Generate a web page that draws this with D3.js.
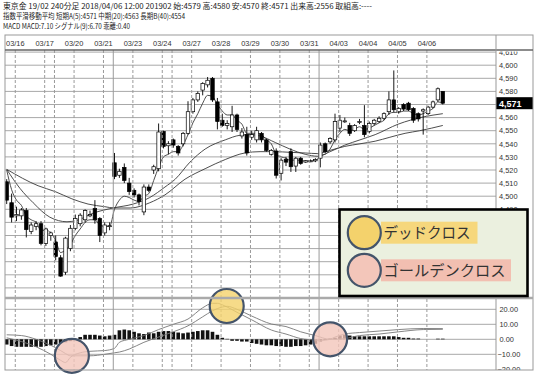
<!DOCTYPE html>
<html><head><meta charset="utf-8">
<script src="https://cdn.jsdelivr.net/npm/d3@7"></script>
<style>body{margin:0;background:#fff}svg{display:block}</style>
</head><body>
<svg id="c" width="543" height="383"></svg>
<script>
// ---------- DATA ----------
const headerLines = [
  "東京金 19/02 240分足 2018/04/06 12:00 201902 始:4579 高:4580 安:4570 終:4571 出来高:2556 取組高:----",
  "指数平滑移動平均 短期A(5):4571 中期(20):4563 長期B(40):4554",
  "MACD MACD:7.10 シグナル(9):6.70 乖離:0.40"
];
const dateLabels = ["03/16","03/17","03/20","03/21","03/23","03/24","03/27","03/28","03/29","03/30","03/31","04/03","04/04","04/05","04/06"];
const dateLineIdx = [1.75,7.75,13.75,19.75,25.75,31.75,37.75,43.75,49.75,55.75,61.75,67.75,73.75,79.75,85.75];
const extraDashIdx = [9.75,33.75];
const solidLineIdx = [21.75,63.75];
const priceTicks = [4610,4600,4590,4580,4570,4560,4550,4540,4530,4520,4510,4500,4490,4480,4470,4460,4450,4440,4430];
const priceLabelTicks = [4610,4600,4590,4580,4560,4550,4540,4530,4520,4510,4500,4490];
const macdTicks = [20,10,0,-10,-20];
const macdGrid = [20,10,0,-10];
const lastPrice = 4571;

const opens  = [4511,4495,4485,4485,4489,4473,4477,4479,4464,4470,4465,4453,4442,4460,4475.5,4479,4482,4485,4490.5,4483,4472,4477,
  4525.5,4516,4522,4510,4504.5,4501,4488,4507,4520,4521,4549.5,4538.5,4543,4538,4540,4548,4564.5,4573.5,4581,4585,4590,4572,4558,4554,4553,4562,
  4546,4547,4545,4543,4548,4543,4532,4534.5,4517.5,4528,4534,4523,4529,4526,4527,4527,4529,4540,4541.5,4543,4552,4557,4554,4550,4557,4554,
  4549.5,4555.5,4557,4559.5,4564.5,4573.5,4564.5,4570,4571,4567,4563,4565,4563,4568,4573.5,4580];
const highs  = [4513,4502,4492,4491,4491,4480,4481,4481,4476,4473,4470,4455,4469,4478,4486,4487,4490,4489,4497,4484,4480,4480,
  4533,4521,4525,4514,4506,4502,4509,4509,4524,4555.5,4550,4542,4544,4539,4549,4572.5,4575,4580,4587,4591,4591,4575,4563,4558,4569,4563,
  4552,4553,4550,4553,4549,4544,4536,4536.5,4529,4530,4536.5,4530,4530,4527.5,4528,4529,4541,4541,4545,4563,4562,4560,4556,4555,4559,4569.5,
  4557,4559,4561,4564,4580,4596,4568,4571,4572,4568,4564,4567,4569,4573,4583,4580];
const lows   = [4494,4480,4481,4482,4468.5,4471,4474,4462.5,4462,4466,4451,4438.5,4440,4458,4474,4477,4480,4484,4479,4465,4470,4474,
  4513,4514,4510,4501,4499,4493,4485.5,4503,4517,4519,4536.5,4532,4537,4531,4538,4547,4563,4572,4577,4583,4572,4551,4553,4551,4549,4549,
  4544,4531,4543,4541,4541,4534,4531,4513.5,4512,4523,4518.5,4518.5,4524,4525.5,4526,4526,4522,4533,4540,4541,4549,4556,4546,4549,4555,4545,
  4548,4554,4556,4558,4562,4564,4563,4565,4565,4556,4557,4547,4562,4567,4572,4570];
const closes = [4497,4484,4486,4489.5,4474.5,4478,4479,4464,4475,4472,4454,4439,4468,4475.5,4483,4485.5,4489,4486,4482,4470,4478,4477.5,
  4515,4519,4512,4503.5,4501,4496,4507,4504.5,4522.5,4549,4538,4540,4539,4533,4548,4564.5,4573.5,4578.5,4586,4588.5,4573.5,4557,4554,4555.5,4562,4551,
  4549,4533,4547,4550,4543,4535,4535,4516,4527.5,4526,4522.5,4529,4525,4527,4527,4528,4539,4534,4544,4557,4558,4557.5,4548,4554,4557,4547,
  4555.5,4558,4559.5,4563,4573.5,4566,4567,4566.5,4566,4558,4559,4566,4568,4572,4582,4571];

// moving averages
const maShort = [4520,4505,4497,4493,4485,4482,4480,4474,4474,4472,4466,4457,4459,4463,4470,4475,4480,4482,4482,4478,4477,4477,
  4490,4497,4500,4499,4497,4496,4500,4502,4512,4522,4530,4532,4534,4534,4539,4547,4556,4563,4571,4577,4576,4570,4565,4562,4562,4558,
  4555,4548,4548,4548,4547,4543,4540,4532,4530,4529,4527,4528,4527,4527,4527,4527,4531,4532,4536,4543,4548,4551,4550,4551,4553,4551,
  4552,4554,4556,4558,4563,4564,4564,4565,4565,4563,4562,4563,4565,4567,4572,4571];
const maMidIdx  = [0,2.7,5.4,8.8,12.3,14.3,17.6,21.7,25.8,29.2,32.3,34.4,37.4,40.5,44.6,47.6,49.7,51.7,54.8,57.8,60.9,63.5,66,69,72.1,75.2,79.9,85,89];
const maMidVal  = [4520.5,4506,4495,4484,4480.5,4481.5,4487,4491,4494,4499,4507,4513,4526,4536,4543,4546.5,4547,4546,4541,4536,4532,4530.5,4534,4539,4543,4547,4555,4560.5,4563];
const maLongIdx = [0,6.4,9.9,13.3,16.6,20,22,25.2,29.2,32.3,36.4,40.5,44.6,48.6,51.7,54.8,57.8,60.9,63.5,66,69,72.1,75.2,78.2,81.3,84.3,89];
const maLongVal = [4520.5,4508,4503.5,4498,4494,4492,4491,4491,4495,4501,4513,4521,4528,4533,4534,4534,4533.5,4533,4532.5,4535,4538,4540,4542,4545,4548,4550,4554];

// MACD panel
const macdHist = [-3.5,-4.5,-5,-5,-5,-5,-5,-5,-4.5,-4,-3.5,-2.5,-2,-1.2,0.3,1.5,3,3,3,2.5,2,2.5,
  3,6,6.5,6,5,4,3.5,4.5,4,5,5.5,5.5,5,4.5,4,4.5,5,5.5,6,6,5,3,1,0.3,-1,-1,
  -1.5,-1.5,-2.5,-3,-3.5,-4,-4,-4.5,-4.5,-5,-5,-4.5,-4.5,-4,-3.5,-3,-1.5,-0.5,0.5,1,2.5,3,2.5,2,2,2,
  2,2,2,2,2,2,1.5,1,1,0.5,0.5,0,0,0,0.4,0.4];
const macdIdx = [0,3,6,9,11,12,13,15,17,20,22,23,25,28,31,34,37,40,42,43,44,45,47,50,54,57,60,63,64,65,66,67,69,72,76,80,85,89];
const macdVal = [1,-1.5,-5,-10,-14,-15.5,-12,-9,-8,-7.5,-6,-2,0,2.5,6.5,10,13.5,21,24,24,23,21.5,18,13,6.2,3.5,0.5,-0.5,-0.8,-0.5,0,1.5,3.5,4.5,5.5,6.5,7.2,7.1];
const sigIdx  = [0,3,6,9,11,12,13,15,17,20,22,23,25,28,31,34,37,40,42,44,45,47,50,54,57,60,63,66,69,72,76,80,85,89];
const sigVal  = [3,2.5,0,-4,-7.5,-9.5,-11,-11,-11,-10,-9,-8.5,-6.5,-2,1.5,5,9,15,19,21.5,22,20,15.5,10.2,8.5,5,2.5,0,0.5,2.5,3.5,5,6.5,6.7];
const crosses = [
  {i:13.3, m:-11,  type:"golden"},
  {i:44.9, m:22.2, type:"dead"},
  {i:66,   m:0,    type:"golden"}
];
const legendItems = [
  {label:"デッドクロス", type:"dead"},
  {label:"ゴールデンクロス", type:"golden"}
];

// ---------- DRAW ----------
const svg = d3.select("#c");
const L = 5, R = 533, AX = 496, TOP = 35, DATEB = 50, MAINB = 297, MTOP = 299, BOT = 370;
const x = d3.scaleLinear().domain([0, 89]).range([6.7, 442.8]);
const y = d3.scaleLinear().domain([4430, 4610]).range([287.9, 52.1]);
const ym = d3.scaleLinear().domain([-20, 20]).range([369.3, 309.3]);
const fill = {dead:"#F4D26C", golden:"#F3C6BA"};
const labelFill = {dead:"#F6D77C", golden:"#F2BFB1"};
const stroke = "#44546A";

// header
const hdrW = [369, 182, 127];
headerLines.forEach((t, k) => {
  svg.append("text").attr("x", 3).attr("y", 9 + k * 10.2).text(t)
    .attr("font-family", "'Noto Sans CJK JP', sans-serif").attr("font-size", 7.6)
    .attr("fill", "#222").attr("textLength", hdrW[k]).attr("lengthAdjust", "spacingAndGlyphs");
});

// clip paths
const defs = svg.append("defs");
defs.append("clipPath").attr("id","cm").append("rect").attr("x",L).attr("y",DATEB).attr("width",R-L).attr("height",MAINB-DATEB);
defs.append("clipPath").attr("id","ca").append("rect").attr("x",L).attr("y",DATEB+1.5).attr("width",R-L).attr("height",MAINB-DATEB-1.5);
defs.append("clipPath").attr("id","cd").append("rect").attr("x",L).attr("y",MTOP).attr("width",R-L).attr("height",BOT-MTOP);

// horizontal grid main
const gMain = svg.append("g").attr("clip-path","url(#cm)");
gMain.selectAll("line.h").data(priceTicks).join("line")
  .attr("x1", L).attr("x2", AX).attr("y1", d => y(d)).attr("y2", d => y(d))
  .attr("stroke", "#a8a8a8").attr("stroke-width", 1);
// MACD grid
const gM = svg.append("g").attr("clip-path","url(#cd)");
gM.selectAll("line.h").data(macdGrid).join("line")
  .attr("x1", L).attr("x2", AX).attr("y1", d => ym(d)).attr("y2", d => ym(d))
  .attr("stroke", "#a8a8a8").attr("stroke-width", 1);

// vertical lines
const vLines = (g, y1, y2) => {
  g.selectAll(null).data(dateLineIdx.concat(extraDashIdx)).join("line")
    .attr("x1", d => x(d)).attr("x2", d => x(d)).attr("y1", y1).attr("y2", y2)
    .attr("stroke", "#9a9a9a").attr("stroke-dasharray", "3,2");
  g.selectAll(null).data(solidLineIdx).join("line")
    .attr("x1", d => x(d)).attr("x2", d => x(d)).attr("y1", y1).attr("y2", y2)
    .attr("stroke", "#9a9a9a");
};
vLines(svg.append("g"), DATEB, MAINB);
vLines(svg.append("g"), MTOP, BOT);

// date labels
svg.selectAll("text.date").data(dateLabels).join("text")
  .attr("x", (d, k) => x(dateLineIdx[k])).attr("y", 45.5).attr("text-anchor", "middle")
  .attr("font-family", "'Liberation Sans', Arial, sans-serif").attr("font-size", 7.4).attr("fill", "#333").text(d => d);

// MA lines
const idx = d3.range(closes.length);
const lineS = d3.line().x(i => x(i)).y(i => y(maShort[i])).curve(d3.curveMonotoneX);
gMain.append("path").attr("d", lineS(idx)).attr("fill","none").attr("stroke","#3a3a3a").attr("stroke-width",0.9);
const pairLine = (ix, v, sy) => d3.line().x((d,k) => x(ix[k])).y((d,k) => sy(v[k])).curve(d3.curveMonotoneX)(v);
gMain.append("path").attr("d", pairLine(maMidIdx, maMidVal, y)).attr("fill","none").attr("stroke","#3a3a3a").attr("stroke-width",0.9);
gMain.append("path").attr("d", pairLine(maLongIdx, maLongVal, y)).attr("fill","none").attr("stroke","#3a3a3a").attr("stroke-width",0.9);

// candles
const bw = 3.5;
const cg = gMain.append("g");
cg.selectAll("line.w").data(idx).join("line")
  .attr("x1", i => x(i)).attr("x2", i => x(i)).attr("y1", i => y(highs[i])).attr("y2", i => y(lows[i]))
  .attr("stroke", "#000").attr("stroke-width", 0.9);
cg.selectAll("rect.b").data(idx).join("rect")
  .attr("x", i => x(i) - bw / 2).attr("width", bw)
  .attr("y", i => y(Math.max(opens[i], closes[i])))
  .attr("height", i => Math.max(1, Math.abs(y(opens[i]) - y(closes[i]))))
  .attr("fill", i => closes[i] >= opens[i] ? "#fff" : "#000")
  .attr("stroke", "#000").attr("stroke-width", 0.7);

// MACD histogram
gM.selectAll("rect.hist").data(idx).join("rect")
  .attr("x", i => x(i) - 1.8).attr("width", 3.6)
  .attr("y", i => Math.min(ym(0), ym(macdHist[i])))
  .attr("height", i => Math.abs(ym(macdHist[i]) - ym(0)))
  .attr("fill", "#111");
gM.append("path").attr("d", pairLine(macdIdx, macdVal, ym)).attr("fill","none").attr("stroke","#777").attr("stroke-width",0.9);
gM.append("path").attr("d", pairLine(sigIdx, sigVal, ym)).attr("fill","none").attr("stroke","#777").attr("stroke-width",0.9);
svg.selectAll("circle.cross").data(crosses).join("circle")
  .attr("cx", d => x(d.i)).attr("cy", d => ym(d.m)).attr("r", 17)
  .attr("fill", d => fill[d.type]).attr("fill-opacity", 0.8)
  .attr("stroke", stroke).attr("stroke-width", 2.2);

// price axis labels
const gAx = svg.append("g").attr("clip-path","url(#ca)");
gAx.selectAll("text").data(priceLabelTicks).join("text")
  .attr("x", 499).attr("y", d => y(d) + 2.7)
  .attr("font-family", "'Liberation Sans', Arial, sans-serif").attr("font-size", 7.4).attr("fill", "#333")
  .text(d => d3.format(",")(d));
const gAx2 = svg.append("g").attr("clip-path","url(#cd)");
gAx2.selectAll("text").data(macdTicks).join("text")
  .attr("x", d => d < 0 ? 497.5 : 499.5).attr("y", d => ym(d) + 2.7)
  .attr("font-family", "'Liberation Sans', Arial, sans-serif").attr("font-size", 7.4).attr("fill", "#333")
  .text(d => d3.format(".2f")(d));
// last price tag
svg.append("rect").attr("x", AX).attr("y", y(lastPrice) - 6).attr("width", R - AX).attr("height", 12).attr("fill", "#000");
svg.append("text").attr("x", 499).attr("y", y(lastPrice) + 3.5).text(d3.format(",")(lastPrice))
  .attr("font-family", "'Liberation Sans', Arial, sans-serif").attr("font-size", 9).attr("font-weight", "bold").attr("fill", "#fff");

// frame
const fr = svg.append("g").attr("fill","none");
fr.append("rect").attr("x", L).attr("y", TOP).attr("width", R - L).attr("height", BOT - TOP).attr("stroke", "#999");
fr.append("line").attr("x1", L).attr("x2", R).attr("y1", DATEB).attr("y2", DATEB).attr("stroke", "#666").attr("stroke-width", 1.6);
fr.append("line").attr("x1", AX).attr("x2", AX).attr("y1", TOP).attr("y2", BOT).attr("stroke", "#999");
fr.append("line").attr("x1", L).attr("x2", R).attr("y1", 298).attr("y2", 298).attr("stroke", "#aaa").attr("stroke-width", 2.4);

// legend box
const lg = svg.append("g");
lg.append("rect").attr("x", 339.5).attr("y", 209.5).attr("width", 188).attr("height", 86.5)
  .attr("fill", "#EBF0DF").attr("stroke", "#000").attr("stroke-width", 2.6);
const lw = [96.5, 130];
const tw = [87, 122];
legendItems.forEach((d, k) => {
  const cy = 232.7 + k * 37.6;
  lg.append("rect").attr("x", 381).attr("y", cy - 11).attr("width", lw[k]).attr("height", 22).attr("fill", labelFill[d.type]);
  lg.append("circle").attr("cx", 364.3).attr("cy", cy).attr("r", 16.5).attr("fill", fill[d.type]).attr("stroke", stroke).attr("stroke-width", 2.2);
  lg.append("text").attr("x", 383.5).attr("y", cy + 5.5).text(d.label)
    .attr("font-family", "'Noto Sans CJK JP', sans-serif").attr("font-size", 15).attr("fill", "#333")
    .attr("textLength", tw[k]).attr("lengthAdjust", "spacingAndGlyphs");
});
</script>
</body></html>
